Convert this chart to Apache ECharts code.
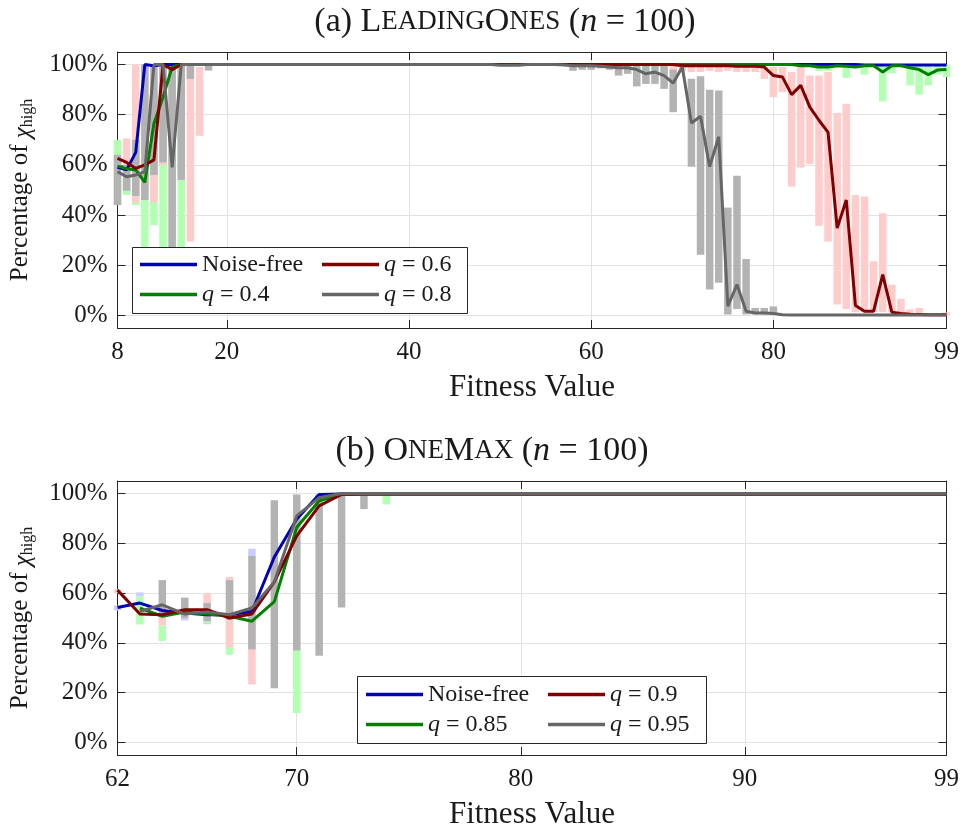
<!DOCTYPE html>
<html><head><meta charset="utf-8">
<script src="https://cdn.jsdelivr.net/npm/echarts@6/dist/echarts.min.js"></script>
<style>html,body{margin:0;padding:0;background:#fff}#c{width:962px;height:831px}</style>
</head><body><div id="c"></div>
<script>
const FONT = 'Liberation Serif';
const TXT = '#1a1a1a';
const AX = '#262626';

// ---------- (a) LeadingOnes ----------
const topX = [8,9,
 10,11,12,13,14,15,16,17,18,19, 20,21,22,23,24,25,26,27,28,29,
 30,31,32,33,34,35,36,37,38,39, 40,41,42,43,44,45,46,47,48,49,
 50,51,52,53,54,55,56,57,58,59, 60,61,62,63,64,65,66,67,68,69,
 70,71,72,73,74,75,76,77,78,79, 80,81,82,83,84,85,86,87,88,89,
 90,91,92,93,94,95,96,97,98,99];
const topXTicks = [8,20,40,60,80,99];

const topNoiseFree = [0.59,0.58,
 0.65,1,0.995,1,1,1,1,1,1,1, 1,1,1,1,1,1,1,1,1,1,
 1,1,1,1,1,1,1,1,1,1, 1,1,1,1,1,1,1,1,1,1,
 1,1,1,1,1,1,1,1,1,1, 1,1,1,1,1,1,1,1,1,1,
 1,1,1,1,1,1,1,1,1,1, 1,1,1,1,1,1,1,1,1,1,
 0.998,0.998,0.998,0.998,0.998,0.998,0.998,0.998,0.998,0.998];
const topQ04 = [0.595,0.585,
 0.58,0.53,0.765,0.87,0.99,1,1,1,1,1, 1,1,1,1,1,1,1,1,1,1,
 1,1,1,1,1,1,1,1,1,1, 1,1,1,1,1,1,1,1,1,1,
 1,1,1,1,1,1,1,1,1,1, 1,1,1,1,1,1,1,1,1,1,
 1,1,1,1,1,1,1,1,1,1, 1,1,1,0.995,0.995,0.99,0.99,0.995,0.993,0.99,
 0.995,0.995,0.97,0.995,0.995,0.987,0.98,0.96,0.978,0.98];
const topQ06 = [0.626,0.61,
 0.586,0.60,0.62,1,0.98,1,1,1,1,1, 1,1,1,1,1,1,1,1,1,1,
 1,1,1,1,1,1,1,1,1,1, 1,1,1,1,1,1,1,1,1,1,
 1,1,1,1,1,1,1,1,1,1, 1,1,1,1,1,1,1,1,1,1,
 0.995,0.995,0.995,0.995,0.995,0.995,0.993,0.993,0.993,0.99,
 0.956,0.95,0.88,0.917,0.83,0.778,0.73,0.348,0.46,0.04,
 0.017,0.017,0.163,0.013,0.008,0.005,0.004,0.003,0.003,0.003];
const topQ08 = [0.573,0.553,
 0.56,0.573,1,1,0.59,1,1,1,1,1, 1,1,1,1,1,1,1,1,1,1,
 1,1,1,1,1,1,1,1,1,1, 1,1,1,1,1,1,1,1,1,1,
 0.997,0.997,0.997,1,1,1,1,0.998,0.995,0.995,
 0.995,0.993,0.99,0.987,0.987,0.98,0.963,0.97,0.956,0.926,
 0.99,0.767,0.794,0.593,0.712,0.037,0.123,0.017,0.01,0.01,
 0.008,0.003,0.002,0.002,0.002,0.002,0.002,0.002,0.002,0.002,
 0.002,0.002,0.002,0.002,0.002,0.002,0.002,0.002,0.002,0.002];

// ranges: [fitness, low, high]
const topRangeNoiseFree = [[9,0.488,0.498]];
const topRangeQ04 = [[8,0.44,0.70],[9,0.48,0.60],[10,0.44,0.75],[11,0.12,0.80],[12,0.36,0.80],
 [13,0.10,1.0],[14,0.15,1.0],[15,0.10,1.0],[16,0.99,1.0],
 [85,0.975,1],[86,0.975,1],[88,0.947,1],[90,0.96,1],[92,0.853,1],[93,0.965,1],
 [95,0.917,1],[96,0.88,1],[97,0.917,1],[98,0.96,1],[99,0.95,1]];
const topRangeQ06 = [[9,0.50,0.705],[10,0.45,1.0],[11,0.50,1.0],[12,0.45,0.90],[13,0.60,1.0],[14,0.60,1.0],
 [16,0.295,0.99],[17,0.716,0.99],
 [68,0.975,0.995],[69,0.975,0.995],[70,0.975,0.995],[71,0.97,0.995],[72,0.97,0.995],[73,0.975,0.995],
 [74,0.97,0.995],[75,0.975,0.995],[76,0.97,0.995],[77,0.97,0.995],
 [78,0.97,0.99],[79,0.943,0.99],[80,0.87,0.99],[81,0.89,0.99],[82,0.513,0.97],[83,0.59,0.99],
 [84,0.603,0.956],[85,0.358,0.956],[86,0.295,0.97],[87,0.044,0.807],[88,0.026,0.844],[89,0.013,0.48],
 [90,0.013,0.474],[91,0.013,0.216],[92,0.013,0.407],[93,0.013,0.123],[94,0.008,0.066],[95,0.004,0.024],
 [96,0.004,0.03],[99,0.0,0.012]];
const topRangeQ08 = [[8,0.44,0.64],[9,0.497,0.60],[10,0.476,0.70],[11,0.46,1.0],[12,0.56,1.0],[13,0.61,1.0],
 [14,0.10,1.0],[15,0.54,1.0],[16,0.943,0.995],[18,0.976,0.995],
 [58,0.975,1],[59,0.979,1],[60,0.979,1],[61,0.985,1],[62,0.979,1],[63,0.956,1],[64,0.963,1],
 [65,0.913,1],[66,0.923,1],[67,0.923,1],[68,0.903,1],[69,0.81,0.98],[71,0.593,0.943],[72,0.242,0.953],
 [73,0.103,0.90],[74,0.13,0.897],[75,0.004,0.43],[76,0.026,0.557],[77,0.004,0.225],[78,0.004,0.03],
 [79,0.004,0.03],[80,0.004,0.036]];

// ---------- (b) OneMax ----------
const botX = [62,63,64,65,66,67,68,69,
 70,71,72,73,74,75,76,77,78,79, 80,81,82,83,84,85,86,87,88,89,
 90,91,92,93,94,95,96,97,98,99];
const botXTicks = [62,70,80,90,99];
const botNoiseFree = [0.542,0.56,0.53,0.52,0.513,0.513,0.526,0.745,
 0.897,0.996,0.998,0.998,0.998,0.998,0.998,0.998,0.998,0.998,
 0.998,0.998,0.998,0.998,0.998,0.998,0.998,0.998,0.998,0.998,
 0.998,0.998,0.998,0.998,0.998,0.998,0.998,0.998,0.998,0.998];
const botQ085 = [null,0.54,0.507,0.524,0.516,0.507,0.487,0.566,
 0.864,0.97,0.996,0.997,0.997,0.997,0.997,0.997,0.997,0.997,
 0.997,0.997,0.997,0.997,0.997,0.997,0.997,0.997,0.997,0.997,
 0.997,0.997,0.997,0.997,0.997,0.997,0.997,0.997,0.997,0.997];
const botQ09 = [0.612,0.516,0.513,0.533,0.533,0.50,0.516,0.645,
 0.83,0.95,0.996,0.997,0.997,0.997,0.997,0.997,0.997,0.997,
 0.997,0.997,0.997,0.997,0.997,0.997,0.997,0.997,0.997,0.997,
 0.997,0.997,0.997,0.997,0.997,0.997,0.997,0.997,0.997,0.997];
const botQ095 = [null,0.526,0.553,0.516,0.524,0.513,0.54,0.645,
 0.91,0.983,1.0,0.998,0.998,0.998,0.998,0.998,0.998,0.998,
 0.998,0.998,0.998,0.998,0.998,0.998,0.998,0.998,0.998,0.998,
 0.998,0.998,0.998,0.998,0.998,0.998,0.998,0.998,0.998,0.998];
const botRangeNoiseFree = [[62,0.53,0.55],[63,0.586,0.603],[65,0.49,0.50],[66,0.475,0.487],[68,0.749,0.778]];
const botRangeQ085 = [[63,0.474,0.586],[64,0.407,0.47],[66,0.48,0.49],[67,0.352,0.50],[70,0.119,0.90],[74,0.956,1.0]];
const botRangeQ09 = [[62,0.60,0.615],[64,0.47,0.52],[66,0.487,0.60],[67,0.381,0.665],[68,0.233,0.60]];
const botRangeQ095 = [[64,0.507,0.652],[65,0.50,0.582],[66,0.487,0.56],[67,0.493,0.652],[68,0.374,0.749],
 [69,0.218,0.973],[70,0.37,0.996],[71,0.348,0.996],[72,0.542,0.996],[73,0.937,1.0]];

const yTicks = [0,0.2,0.4,0.6,0.8,1.0];

const LINE_COLORS = ['#0000b4','#008000','#800000','#666666'];
const BAR_COLORS = ['#ccccff','#b3ffb3','#ffcccc','#b3b3b3'];

function pairs(xs, ys){ const out=[]; xs.forEach((x,i)=>{ if(ys[i]!=null) out.push([x, ys[i]]); }); return out; }

function barRender(color){
  return function(params, api){
    const x = api.value(0), lo = api.value(1), hi = api.value(2);
    const p1 = api.coord([x, hi]), p2 = api.coord([x, lo]);
    const w = 7.5;
    return {type:'rect', shape:{x:p1[0]-w/2, y:p1[1], width:w, height:Math.max(1,p2[1]-p1[1])}, style:{fill:color}};
  };
}

const axisLabelFont = {fontFamily:FONT, fontSize:25, color:TXT};

function makeX(grid, min, max, ticks){
  return [
    {type:'value', gridIndex:grid, min, max, position:'bottom',
     axisLine:{show:true, onZero:false, lineStyle:{color:AX,width:1}},
     axisTick:{show:true, inside:true, length:8, customValues:ticks, lineStyle:{color:AX}},
     axisLabel:Object.assign({customValues:ticks, margin:12}, axisLabelFont),
     splitLine:{show:true, lineStyle:{color:'#e2e2e2', width:1}},
     name:'Fitness Value', nameLocation:'middle', nameGap:44,
     nameTextStyle:{fontFamily:FONT, fontSize:31, color:TXT}},
    {type:'value', gridIndex:grid, min, max, position:'top',
     axisLine:{show:true, onZero:false, lineStyle:{color:AX,width:1}},
     axisTick:{show:true, inside:true, length:8, customValues:ticks, lineStyle:{color:AX}},
     axisLabel:{show:false}, splitLine:{show:false}}
  ];
}
function makeY(grid){
  return [
    {type:'value', gridIndex:grid, min:-0.05, max:1.05, position:'left',
     axisLine:{show:true, onZero:false, lineStyle:{color:AX,width:1}},
     axisTick:{show:true, inside:true, length:8, customValues:yTicks, lineStyle:{color:AX}},
     axisLabel:Object.assign({customValues:yTicks, margin:10, formatter:v=>Math.round(v*100)+'%'}, axisLabelFont),
     splitLine:{show:true, lineStyle:{color:'#e2e2e2', width:1}},
     name:'Percentage of {c|χ}{s|high}', nameLocation:'middle', nameGap:82, nameRotate:90,
     nameTextStyle:{fontFamily:FONT, fontSize:25, color:TXT,
       rich:{c:{fontFamily:FONT, fontSize:25, fontStyle:'italic', color:TXT, lineHeight:30, verticalAlign:'bottom'},
             s:{fontFamily:FONT, fontSize:16, color:TXT, lineHeight:16, verticalAlign:'bottom'}}}},
    {type:'value', gridIndex:grid, min:-0.05, max:1.05, position:'right',
     axisLine:{show:true, onZero:false, lineStyle:{color:AX,width:1}},
     axisTick:{show:true, inside:true, length:8, customValues:yTicks, lineStyle:{color:AX}},
     axisLabel:{show:false}, splitLine:{show:false}}
  ];
}

function makeSeries(grid, xs, lines, ranges, names){
  const xi = grid*2, yi = grid*2;
  const s = [];
  ranges.forEach((r,k)=>{
    s.push({type:'custom', name:'range'+grid+k, xAxisIndex:xi, yAxisIndex:yi, data:r,
      encode:{x:0, y:[1,2]}, renderItem:barRender(BAR_COLORS[k]), z:2, silent:true});
  });
  lines.forEach((v,k)=>{
    s.push({type:'line', name:names[k], xAxisIndex:xi, yAxisIndex:yi, data:pairs(xs,v),
      symbol:'none', showSymbol:false, z:3+k,
      itemStyle:{color:LINE_COLORS[k]}, lineStyle:{color:LINE_COLORS[k], width:3}});
  });
  return s;
}

const legendRich = {
  i:{fontFamily:FONT, fontSize:24, fontStyle:'italic', fontWeight:'normal', color:TXT, lineHeight:25},
  n:{fontFamily:FONT, fontSize:24, fontWeight:'normal', color:TXT, lineHeight:25}
};
function legendFmt(name){
  if (name.charAt(0)==='q') return '{i|q}{n|' + name.slice(1) + '}';
  return '{n|' + name + '}';
}
function mkLegend(left, top, data){
  return {orient:'vertical', left, top, data, icon:'rect', itemWidth:57, itemHeight:3.5,
    itemGap:5, padding:0, z:12, selectedMode:false, formatter:legendFmt,
    textStyle:{fontFamily:FONT, fontSize:24, fontWeight:'normal', color:TXT, lineHeight:25, rich:legendRich}};
}

const titleRich = {
  n:{fontFamily:FONT, fontSize:34, color:TXT},
  sc:{fontFamily:FONT, fontSize:27, color:TXT},
  i:{fontFamily:FONT, fontSize:34, fontStyle:'italic', color:TXT}
};

const chart = echarts.init(document.getElementById('c'), null, {renderer:'canvas'});
chart.setOption({
  animation:false,
  backgroundColor:'#fff',
  title:[
    {text:'{n|(a) L}{sc|EADING}{n|O}{sc|NES}{n| (}{i|n}{n| = 100)}', left:500, top:0, textAlign:'center',
     textStyle:{fontFamily:FONT, fontSize:34, fontWeight:'normal', color:TXT, rich:titleRich}},
    {text:'{n|(b) O}{sc|NE}{n|M}{sc|AX}{n| (}{i|n}{n| = 100)}', left:487, top:429, textAlign:'center',
     textStyle:{fontFamily:FONT, fontSize:34, fontWeight:'normal', color:TXT, rich:titleRich}}
  ],
  grid:[
    {left:117, right:14, top:52, height:276},
    {left:117, right:14, top:481, height:276}
  ],
  xAxis:[].concat(makeX(0,8,99,topXTicks), makeX(1,62,99,botXTicks)),
  yAxis:[].concat(makeY(0), makeY(1)),
  legend:[
    mkLegend(140, 252, ['Noise-free','q = 0.4']),
    mkLegend(322, 252, ['q = 0.6','q = 0.8']),
    mkLegend(366, 682, ['Noise-free','q = 0.85']),
    mkLegend(548, 682, ['q = 0.9','q = 0.95'])
  ],
  graphic:[
    {type:'rect', left:132, top:247, z:11, shape:{width:335, height:66}, style:{fill:'#fff', stroke:AX, lineWidth:1}},
    {type:'rect', left:357, top:676, z:11, shape:{width:349, height:67}, style:{fill:'#fff', stroke:AX, lineWidth:1}}
  ],
  series:[].concat(
    makeSeries(0, topX, [topNoiseFree, topQ04, topQ06, topQ08],
      [topRangeNoiseFree, topRangeQ04, topRangeQ06, topRangeQ08],
      ['Noise-free','q = 0.4','q = 0.6','q = 0.8']),
    makeSeries(1, botX, [botNoiseFree, botQ085, botQ09, botQ095],
      [botRangeNoiseFree, botRangeQ085, botRangeQ09, botRangeQ095],
      ['Noise-free','q = 0.85','q = 0.9','q = 0.95'])
  )
});
</script></body></html>
